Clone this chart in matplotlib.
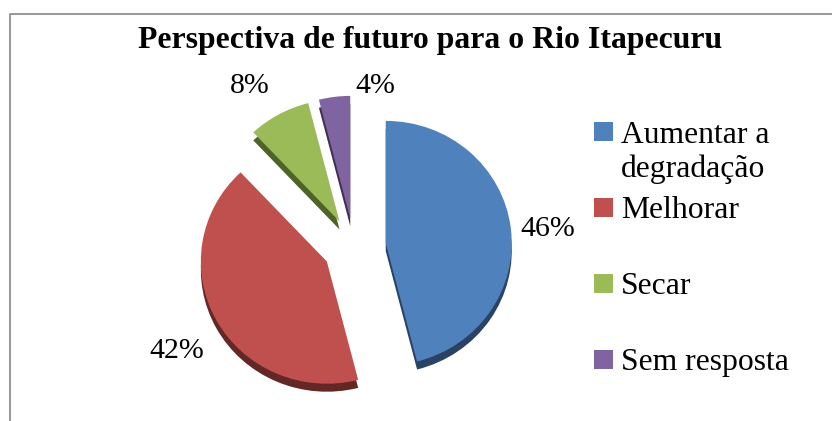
import matplotlib
matplotlib.use("Agg")
import matplotlib.pyplot as plt
from matplotlib.patches import Rectangle

categories = ["Aumentar a\ndegradação", "Melhorar", "Secar", "Sem resposta"]
values = [46, 42, 8, 4]
top_colors = ["#4F81BD", "#C0504D", "#9BBB59", "#8064A2"]
side_colors = ["#2A4365", "#632826", "#4F6228", "#403152"]

W, H = 832, 421
squash = 0.97
radius = 126
cx, cy = 354, 247
depth = 8
explode = [32, 31, 30, 30]
label_pos = [(548, 229), (177, 351), (250, 86), (375, 86)]
legend_top = [122, 198, 274, 350]

plt.rcParams["font.family"] = ["Liberation Serif", "DejaVu Serif"]

fig = plt.figure(figsize=(W / 100, H / 100), dpi=100)
ax = fig.add_axes([0, 0, 1, 1])


def yy(py):
    return (H - py) / squash


# darker pie underneath gives the 3d side
ax.pie(values, explode=explode, colors=side_colors, startangle=90, counterclock=False,
       radius=radius, center=(cx, yy(cy + depth)), frame=True)
wedges, texts, pcts = ax.pie(values, explode=explode, colors=top_colors, startangle=90, counterclock=False,
                             radius=radius, center=(cx, yy(cy)), frame=True,
                             autopct="%.0f%%", textprops={"fontsize": 21.5, "color": "black"})
for t, (px, py) in zip(pcts, label_pos):
    t.set_position((px, yy(py)))

ax.set_aspect("auto")
ax.set_xlim(0, W)
ax.set_ylim(0, H / squash)
ax.set_xticks([])
ax.set_yticks([])
for s in ax.spines.values():
    s.set_visible(False)

# chart frame, only top and left are inside the crop
ax.plot([9.5, 9.5, W], [yy(H), yy(13.5), yy(13.5)], color="#868686", lw=1.2, clip_on=False)

ax.text(430, yy(40), "Perspectiva de futuro para o Rio Itapecuru", ha="center", va="center",
        fontsize=22.9, fontweight="bold", color="black")

# legend by hand, the entries are evenly spaced whatever their line count
for name, col, top in zip(categories, top_colors, legend_top):
    ax.add_patch(Rectangle((594, yy(top + 19)), 19, 19 / squash, facecolor=col, edgecolor="none"))
    # baseline of a multiline text is its last line
    base = top + 20 + 35 * name.count("\n")
    ax.text(621, yy(base), name, ha="left", va="baseline", fontsize=22.8, color="black", linespacing=1.2)

fig.savefig("out.png", dpi=100)
